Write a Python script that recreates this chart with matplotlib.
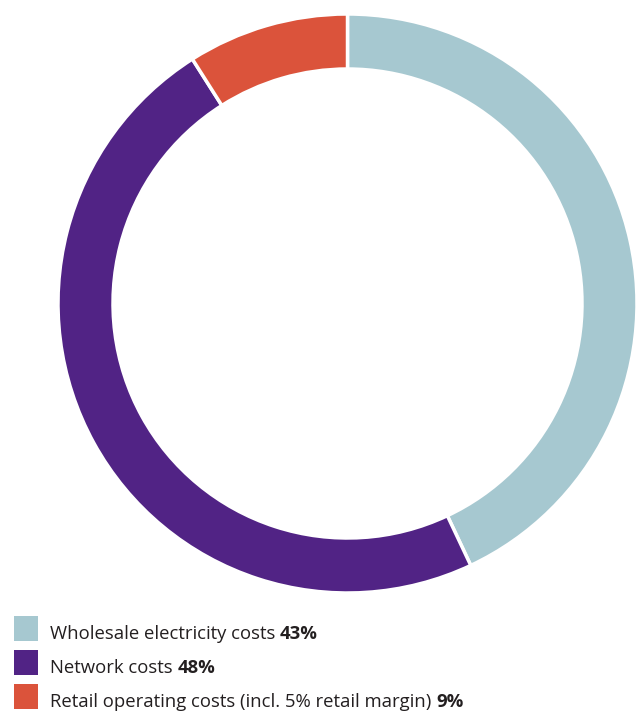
import matplotlib
matplotlib.use("Agg")
import matplotlib.pyplot as plt
from matplotlib.patches import Rectangle

labels = ["Wholesale electricity costs", "Network costs", "Retail operating costs (incl. 5% retail margin)"]
values = [43, 48, 9]
colors = ["#A6C8D0", "#512385", "#DB533B"]

W, H = 638, 713
fig = plt.figure(figsize=(W / 100, H / 100), dpi=100)
ax = fig.add_axes([0, 0, 1, 1])
ax.pie(values, colors=colors, startangle=90, counterclock=False,
       center=(347.5, H - 303.5), radius=289.5,
       wedgeprops=dict(width=55, edgecolor="white", linewidth=2.5), frame=True)
ax.set_xlim(0, W)
ax.set_ylim(0, H)
ax.set_aspect("equal")
ax.axis("off")

font = "Open Sans"
fs = 13.3
for i, (lab, v, c) in enumerate(zip(labels, values, colors)):
    ytop = 616 + 34 * i
    ax.add_patch(Rectangle((14, H - ytop - 25), 24, 25, color=c, lw=0))
    base = H - (639 + 34 * i)
    t = ax.text(50, base, lab + " ", fontsize=fs, family=font, color="#231F20", va="baseline")
    fig.canvas.draw()
    bb = t.get_window_extent()
    inv = ax.transData.inverted()
    x1 = inv.transform((bb.x1, bb.y0))[0]
    ax.text(x1, base, f"{v}%", fontsize=fs, family=font, fontweight="bold", color="#231F20", va="baseline")

fig.savefig("out.png", dpi=100)
